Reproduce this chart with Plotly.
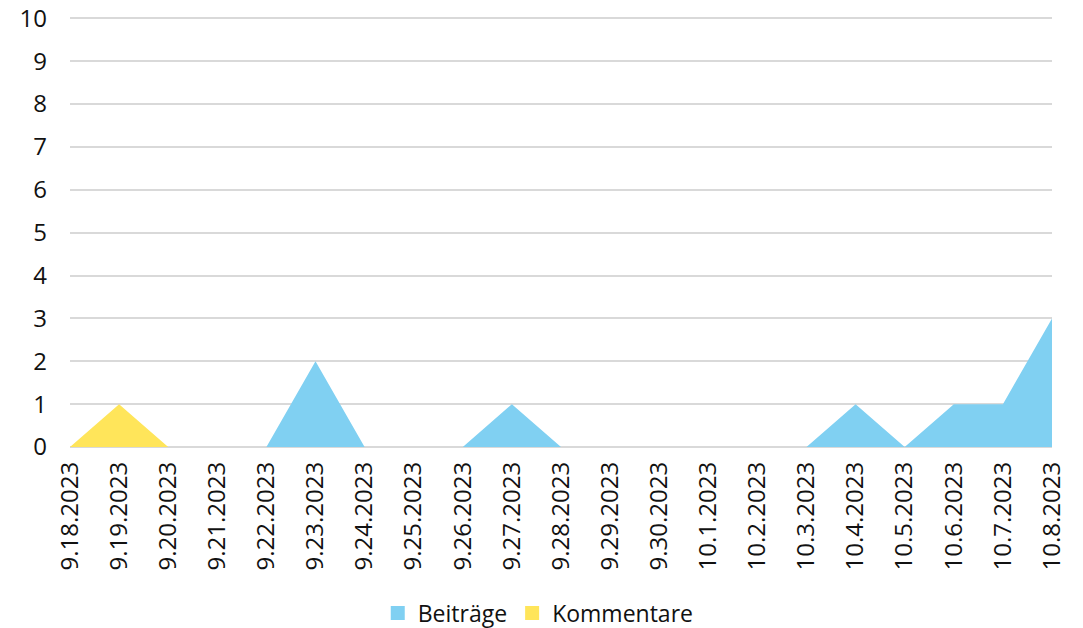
import plotly.graph_objects as go

dates = ["9.18.2023", "9.19.2023", "9.20.2023", "9.21.2023", "9.22.2023", "9.23.2023",
         "9.24.2023", "9.25.2023", "9.26.2023", "9.27.2023", "9.28.2023", "9.29.2023",
         "9.30.2023", "10.1.2023", "10.2.2023", "10.3.2023", "10.4.2023", "10.5.2023",
         "10.6.2023", "10.7.2023", "10.8.2023"]
beitraege = [0, 0, 0, 0, 0, 2, 0, 0, 0, 1, 0, 0, 0, 0, 0, 0, 1, 0, 1, 1, 3]
kommentare = [0, 1, 0, 0, 0, 0, 0, 0, 0, 0, 0, 0, 0, 0, 0, 0, 0, 0, 0, 0, 0]

BLUE = "#80D0F2"
YELLOW = "#FFE55A"
FONT = "Open Sans"

fig = go.Figure()
fig.add_trace(go.Scatter(x=dates, y=beitraege, name="Beiträge", mode="lines",
                         line=dict(width=0, color=BLUE), fillcolor=BLUE,
                         stackgroup="one", showlegend=False))
fig.add_trace(go.Scatter(x=dates, y=kommentare, name="Kommentare", mode="lines",
                         line=dict(width=0, color=YELLOW), fillcolor=YELLOW,
                         stackgroup="one", showlegend=False))
# legend entries
fig.add_trace(go.Scatter(x=[None], y=[None], name="Beiträge", mode="markers",
                         marker=dict(symbol="square", size=14, color=BLUE)))
fig.add_trace(go.Scatter(x=[None], y=[None], name="Kommentare", mode="markers",
                         marker=dict(symbol="square", size=14, color=YELLOW)))

fig.update_layout(
    width=1083, height=628,
    margin=dict(l=70, r=31, t=17, b=181),
    paper_bgcolor="white", plot_bgcolor="white",
    font=dict(family=FONT, size=24, color="#111111"),
    legend=dict(orientation="h", x=0.497, xanchor="center", xref="container",
                y=0.024, yanchor="middle", yref="container",
                font=dict(size=23), traceorder="normal", itemwidth=30),
    xaxis=dict(type="category", range=[0, len(dates) - 1], tickangle=-90,
               showgrid=False, showline=False, zeroline=False, ticks="",
               tickfont=dict(size=24), ticklabelstandoff=9, automargin=False),
    yaxis=dict(range=[0, 10.03], tickvals=list(range(11)), showgrid=True,
               gridcolor="#D9D9D9", gridwidth=1.5,
               zeroline=True, zerolinecolor="#D9D9D9", zerolinewidth=1.5,
               showline=False, ticks="", ticklabelstandoff=22, tickfont=dict(size=24),
               ticklabeloverflow="allow", automargin=False),
)

fig.write_html("out.html", config={"displayModeBar": False},
               post_script="document.body.style.margin='0';")
